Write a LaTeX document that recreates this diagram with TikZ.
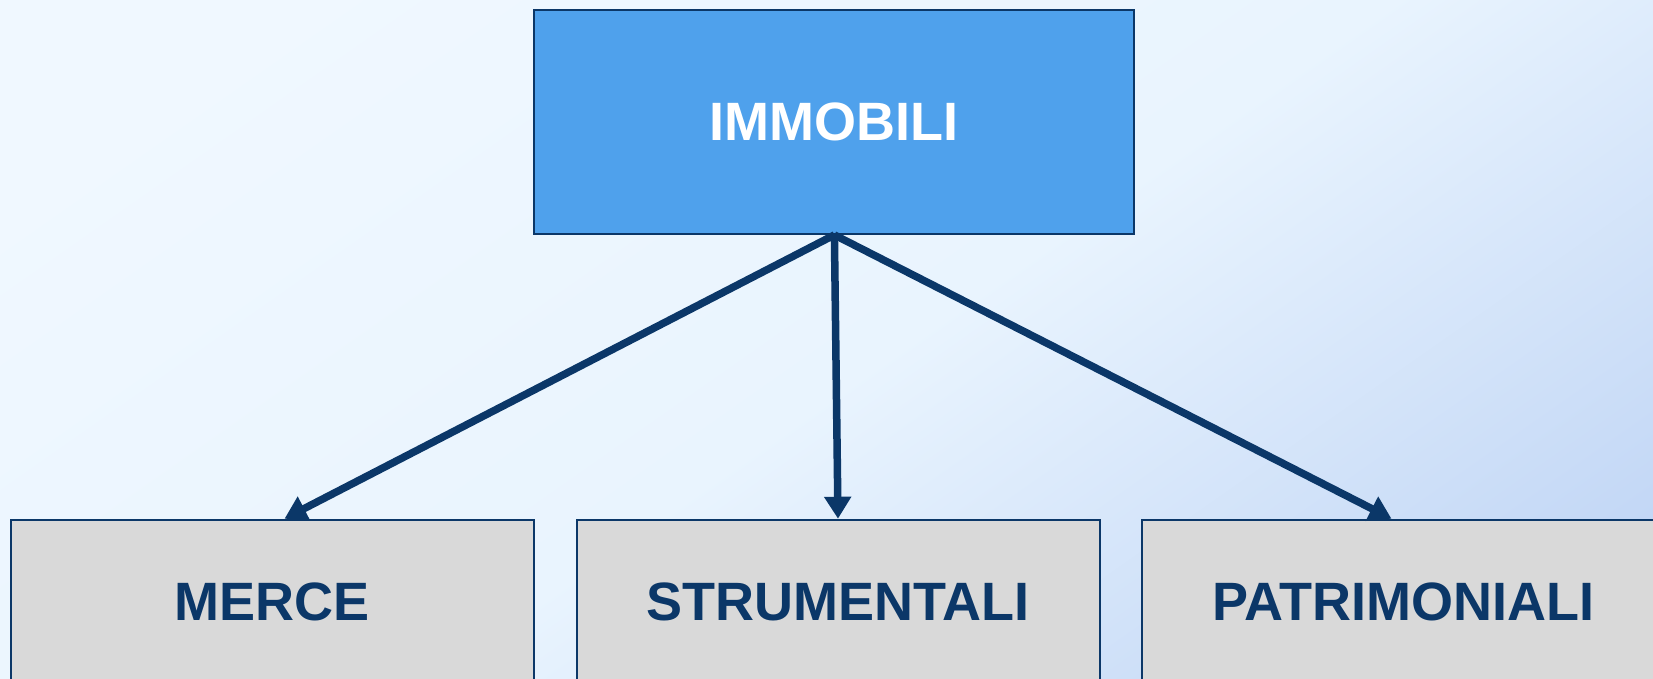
\documentclass[tikz,border=0pt]{standalone}
\usepackage{fontspec}
\setmainfont{Liberation Sans}
\usetikzlibrary{arrows.meta,calc}
\definecolor{navy}{HTML}{0B3768}
\definecolor{topblue}{HTML}{4FA1EC}
\definecolor{boxgray}{HTML}{D9D9D9}
\definecolor{bglight}{HTML}{F0F8FF}
\definecolor{bgmid}{HTML}{E9F4FE}
\definecolor{bgdark}{HTML}{C0D5F5}
\pgfdeclareverticalshading{bgshade}{100bp}{color(0bp)=(bgdark); color(22bp)=(bgdark); color(48bp)=(bgmid); color(75bp)=(bglight); color(100bp)=(bglight)}
\tikzset{
  topbox/.style={draw=navy, line width=2pt, fill=topblue, text=white,
    minimum width=600pt, minimum height=223.5pt, font=\fontsize{54}{60}\selectfont\bfseries, inner sep=0pt},
  subbox/.style={draw=navy, line width=2pt, fill=boxgray, text=navy,
    minimum width=523pt, minimum height=164.6pt, font=\fontsize{54}{60}\selectfont\bfseries, inner sep=0pt},
  conn/.style={draw=navy, line width=7.5pt, -{Triangle[width=26pt,length=22pt]}}
}
\begin{document}
\begin{tikzpicture}[x=1pt,y=-1pt]
\useasboundingbox (0,0) rectangle (1653,678);
\clip (0,0) rectangle (1653,678);
\shade[shading=bgshade, shading angle=35] (-50,-50) rectangle (1703,728);
\node[topbox] (top) at (834.4,122.2) {IMMOBILI};
\node[subbox] (merce) at (272.5,602) {MERCE};
\node[subbox] (strum) at (838,602) {STRUMENTALI};
\node[subbox] (patr) at (1403,602) {PATRIMONIALI};
\coordinate (src) at ($(top.south)+(0,0)$);
\coordinate (tm) at ($(merce.north)+(12,0)$);
\coordinate (ts) at ($(strum.north)+(0,0)$);
\coordinate (tp) at ($(patr.north)+(-11.5,0)$);
\draw[conn] (src) -- (tm);
\draw[conn] (src) -- (ts);
\draw[conn] (src) -- (tp);
\end{tikzpicture}
\end{document}
